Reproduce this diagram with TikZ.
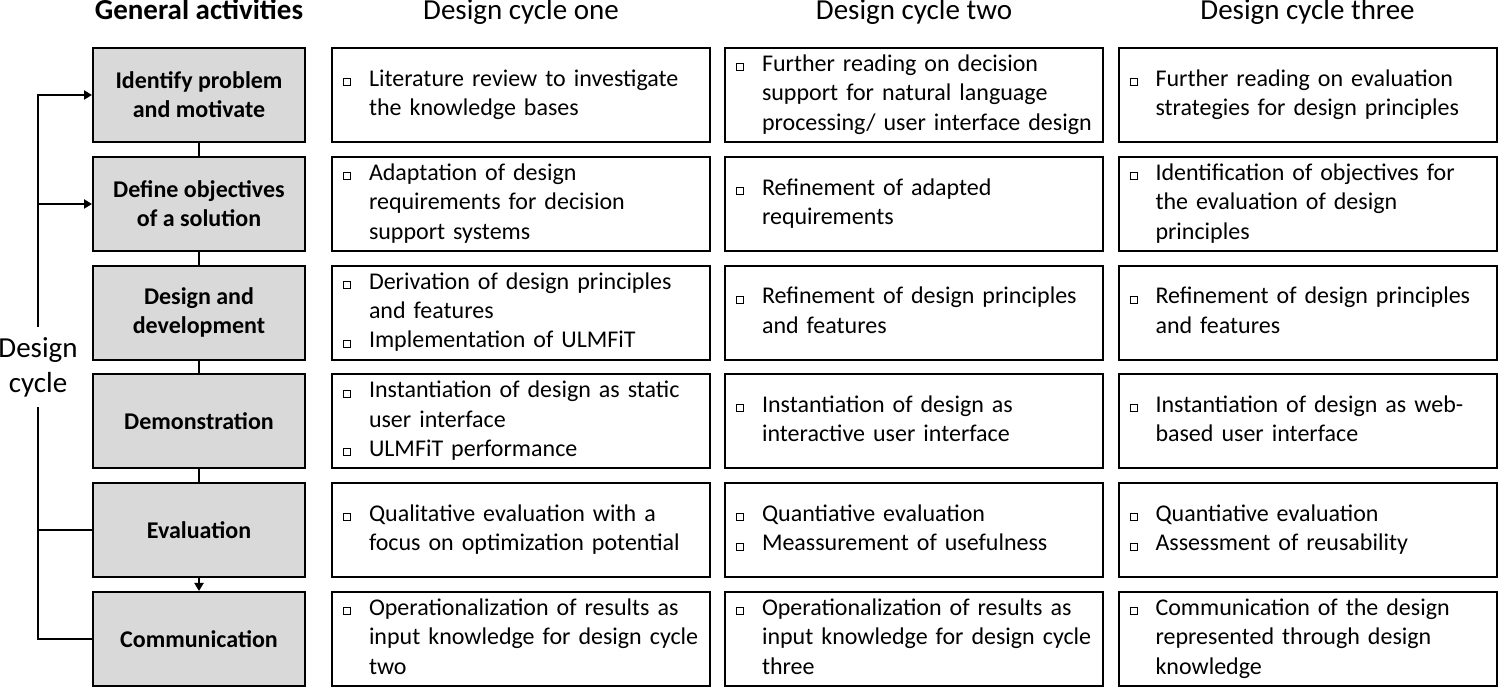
\documentclass[tikz,border=0pt]{standalone}
\usepackage{fontspec}
\setmainfont{Carlito}
\usepackage{tikz}
\usetikzlibrary{arrows.meta,positioning}
\newcommand{\hdrfont}{\fontsize{14.5pt}{17.5pt}\selectfont}
\newcommand{\txtfont}{\fontsize{12pt}{14.65pt}\selectfont}
\newcommand{\chk}{\raisebox{0.6pt}{\setlength{\fboxsep}{0pt}\setlength{\fboxrule}{0.5pt}%
  \fbox{\rule{0pt}{3pt}\rule{3pt}{0pt}}}}
\newcommand{\tasklist}[1]{\begin{tabular}{@{}l@{\hspace{9pt}}l@{}}#1\end{tabular}}
\tikzset{
  act/.style   = {draw,line width=1pt,fill=black!15,minimum width=106pt,
                  minimum height=47pt,align=center,font=\txtfont\bfseries},
  task/.style  = {draw,line width=1pt,minimum height=47pt,text width=178pt,
                  inner xsep=5.5pt,inner ysep=1pt,align=left,font=\txtfont},
  hdr/.style   = {anchor=base,font=\hdrfont},
  link/.style  = {line width=1pt},
  flow/.style  = {link,-{Triangle[length=4pt,width=4.5pt]}},
}

\begin{document}
\begin{tikzpicture}[x=0.5pt,y=-0.5pt]
  \useasboundingbox (0,0) rectangle (1498,688);
  % column heads
  \node[hdr,font=\hdrfont\bfseries] (h0) at (199,20)    {General activities};
  \node[hdr] (h1) at (521,20)    {Design cycle one};
  \node[hdr] (h2) at (914,20)    {Design cycle two};
  \node[hdr] (h3) at (1307.5,20) {Design cycle three};
  % general activities
  \node[act] (act1) at (199,95)    {Identify problem\\and motivate};
  \node[act] (act2) at (199,204)   {Define objectives\\of a solution};
  \node[act] (act3) at (199,312.6) {Design and\\development};
  \node[act] (act4) at (199,421.4) {Demonstration};
  \node[act] (act5) at (199,530.2) {Evaluation};
  \node[act] (act6) at (199,639)   {Communication};
  \draw[link] (act1) -- (act2);
  \draw[link] (act2) -- (act3);
  \draw[link] (act3) -- (act4);
  \draw[link] (act4) -- (act5);
  \draw[flow] (act5) -- (act6);
  % design cycle loop
  \node[font=\hdrfont,align=center,inner ysep=0pt,minimum height=40pt]
    (cyc) at (38,367) {Design\\cycle};
  \draw[flow] (cyc.north) |- (act1.west);
  \draw[flow] (cyc.north |- act2.west) -- (act2.west);
  \draw[link] (act5.west) -- (cyc.south |- act5.west);
  \draw[link] (act6.west) -| (cyc.south);
  % design cycle one
  \node[task] (c11) at (521,95) {\tasklist{\chk & Literature review to investigate\\
    & the knowledge bases}};
  \node[task] (c12) at (521,204) {\tasklist{\chk & Adaptation of design\\
    & requirements for decision\\ & support systems}};
  \node[task] (c13) at (521,312.6) {\tasklist{\chk & Derivation of design principles\\
    & and features\\ \chk & Implementation of ULMFiT}};
  \node[task] (c14) at (521,421.4) {\tasklist{\chk & Instantiation of design as static\\
    & user interface\\ \chk & ULMFiT performance}};
  \node[task] (c15) at (521,530.2) {\tasklist{\chk & Qualitative evaluation with a\\
    & focus on optimization potential}};
  \node[task] (c16) at (521,639) {\tasklist{\chk & Operationalization of results as\\
    & input knowledge for design cycle\\ & two}};
  % design cycle two
  \node[task] (c21) at (914,95) {\tasklist{\chk & Further reading on decision\\
    & support for natural language\\ & processing/ user interface design}};
  \node[task] (c22) at (914,204) {\tasklist{\chk & Refinement of adapted\\
    & requirements}};
  \node[task] (c23) at (914,312.6) {\tasklist{\chk & Refinement of design principles\\
    & and features}};
  \node[task] (c24) at (914,421.4) {\tasklist{\chk & Instantiation of design as\\
    & interactive user interface}};
  \node[task] (c25) at (914,530.2) {\tasklist{\chk & Quantiative evaluation\\
    \chk & Meassurement of usefulness}};
  \node[task] (c26) at (914,639) {\tasklist{\chk & Operationalization of results as\\
    & input knowledge for design cycle\\ & three}};
  % design cycle three
  \node[task] (c31) at (1307.5,95) {\tasklist{\chk & Further reading on evaluation\\
    & strategies for design principles}};
  \node[task] (c32) at (1307.5,204) {\tasklist{\chk & Identification of objectives for\\
    & the evaluation of design\\ & principles}};
  \node[task] (c33) at (1307.5,312.6) {\tasklist{\chk & Refinement of design principles\\
    & and features}};
  \node[task] (c34) at (1307.5,421.4) {\tasklist{\chk & Instantiation of design as web-\\
    & based user interface}};
  \node[task] (c35) at (1307.5,530.2) {\tasklist{\chk & Quantiative evaluation\\
    \chk & Assessment of reusability}};
  \node[task] (c36) at (1307.5,639) {\tasklist{\chk & Communication of the design\\
    & represented through design\\ & knowledge}};
\end{tikzpicture}
\end{document}
